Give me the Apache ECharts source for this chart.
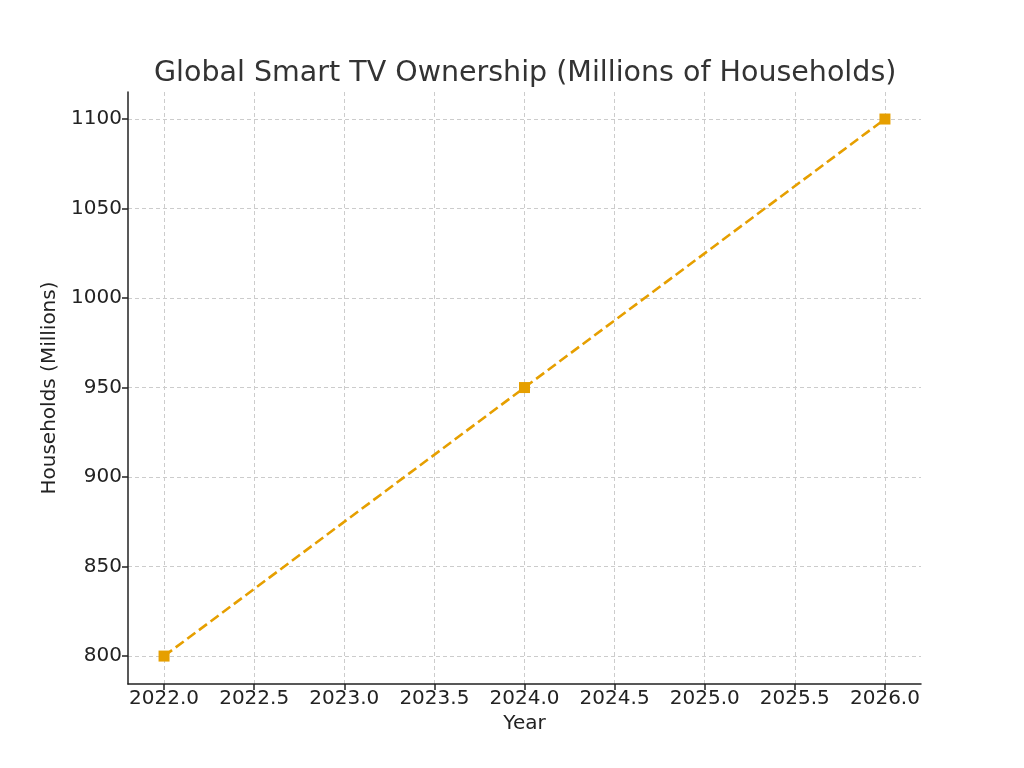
<!DOCTYPE html>
<html>
<head>
<meta charset="utf-8">
<script src="https://cdn.jsdelivr.net/npm/echarts@6/dist/echarts.min.js"></script>
<style>
  html, body { margin: 0; padding: 0; background: #fff; }
  #chart { width: 1024px; height: 768px; }
</style>
</head>
<body>
<div id="chart"></div>
<script>
const years = [2022, 2024, 2026];
const households = [800, 950, 1100];
const xTicks = [2022.0, 2022.5, 2023.0, 2023.5, 2024.0, 2024.5, 2025.0, 2025.5, 2026.0];
const yTicks = [800, 850, 900, 950, 1000, 1050, 1100];

const chart = echarts.init(document.getElementById("chart"));
const font = "DejaVu Sans";
const gridLine = { show: true, lineStyle: { color: "#cccccc", type: [4, 3], width: 1 } };

chart.setOption({
  animation: false,
  title: {
    text: "Global Smart TV Ownership (Millions of Households)",
    // centred over the plot area rather than the whole canvas
    left: 149,
    top: 54,
    textStyle: { fontFamily: font, fontSize: 28.5, fontWeight: "normal", color: "#333" },
  },
  grid: { left: 128, right: 103, top: 92, bottom: 84 },
  xAxis: {
    type: "value",
    min: 2021.8,
    max: 2026.2,
    name: "Year",
    nameLocation: "middle",
    nameGap: 30,
    nameTextStyle: { fontFamily: font, fontSize: 20, color: "#222" },
    axisLine: { show: true, onZero: false, lineStyle: { color: "#222", width: 1.5 } },
    axisTick: { show: true, inside: false, length: 6, customValues: xTicks, lineStyle: { color: "#222", width: 1.5 } },
    axisLabel: {
      customValues: xTicks,
      fontFamily: font, fontSize: 20, color: "#222", margin: 5,
      formatter: (v) => v.toFixed(1),
    },
    splitLine: gridLine,
  },
  yAxis: {
    type: "value",
    min: 784.4,
    max: 1115.1,
    name: "Households (Millions)",
    nameLocation: "middle",
    nameGap: 68,
    nameTextStyle: { fontFamily: font, fontSize: 20, color: "#222" },
    axisLine: { show: true, onZero: false, lineStyle: { color: "#222", width: 1.5 } },
    axisTick: { show: true, inside: false, length: 6, customValues: yTicks, lineStyle: { color: "#222", width: 1.5 } },
    axisLabel: {
      customValues: yTicks,
      fontFamily: font, fontSize: 20, color: "#222", margin: 6,
      formatter: (v) => String(v),
    },
    splitLine: gridLine,
  },
  series: [
    {
      type: "line",
      data: years.map((y, i) => [y, households[i]]),
      symbol: "rect",
      symbolSize: 11,
      itemStyle: { color: "#E69F00" },
      lineStyle: { color: "#E69F00", width: 2.6, type: [10, 4.5] },
    },
  ],
});
</script>
</body>
</html>
